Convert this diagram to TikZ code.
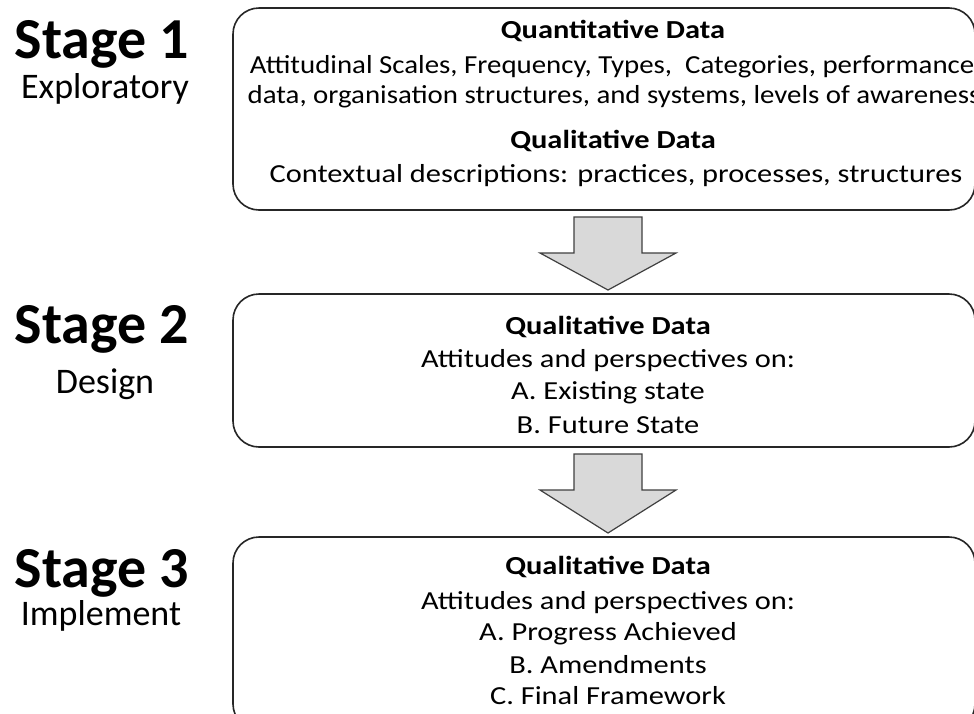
\documentclass[tikz,border=0pt]{standalone}
\usepackage{fontspec}
\setmainfont{Carlito}
\newfontfamily\widefont{Carlito}[FakeStretch=1.17]
\newfontfamily\halfwidefont{Carlito}[FakeStretch=1.11]
\usetikzlibrary{calc}

\tikzset{
  stagebox/.style={draw=black!85, line width=1.6pt, rounded corners=26pt},
  stagename/.style={font=\fontsize{58}{60}\selectfont\bfseries},
  stagesub/.style={font=\fontsize{36}{40}\selectfont},
  boxhead/.style={font=\widefont\fontsize{26}{30}\selectfont\bfseries},
  boxtext/.style={font=\widefont\fontsize{26}{30}\selectfont},
  longtext/.style={font=\halfwidefont\fontsize{26}{30}\selectfont},
  blockarrow/.style={draw=black!75, line width=1.2pt, fill=black!15, line join=miter}
}

\begin{document}
\begin{tikzpicture}[x=1pt, y=-1pt]
    \clip (0,0) rectangle (974,713);
    \fill[white] (0,0) rectangle (974,713);

    % stage labels
    \node[stagename] (st1) at (102,44) {Stage 1};
    \node[stagesub] (sub1) at (105,89) {Exploratory};
    \node[stagename] (st2) at (102,329) {Stage 2};
    \node[stagesub] (sub2) at (105,384) {Design};
    \node[stagename] (st3) at (102,573) {Stage 3};
    \node[stagesub] (sub3) at (101,616) {Implement};

    % boxes
    \draw[stagebox] (233,8) rectangle (975,210);
    \coordinate (b1) at (608,210);
    \draw[stagebox] (233,294) rectangle (975,447);
    \coordinate (b2top) at (608,294);
    \coordinate (b2) at (608,447);
    \draw[stagebox] (233,537) rectangle (975,730);
    \coordinate (b3top) at (608,537);

    % box 1
    \node[boxhead] (quant) at (613,31) {Quantitative Data};
    \node[longtext] (l1) at (612,67) {Attitudinal Scales, Frequency, Types,\ \ Categories, performance};
    \node[longtext] (l2) at (614,97) {data, organisation structures, and systems, levels of awareness};
    \node[boxhead] (qual1) at (613,141) {Qualitative Data};
    \node[boxtext] (l3) at (616,176) {Contextual descriptions: practices, processes, structures};

    % box 2
    \node[boxhead] (qual2) at (608,327) {Qualitative Data};
    \node[boxtext] (m1) at (608,361) {Attitudes and perspectives on:};
    \node[boxtext] (m2) at (608,393) {A. Existing state};
    \node[boxtext] (m3) at (608,425) {B. Future State};

    % box 3
    \node[boxhead] (qual3) at (608,567) {Qualitative Data};
    \node[boxtext] (n1) at (608,603) {Attitudes and perspectives on:};
    \node[boxtext] (n2) at (608,634) {A. Progress Achieved};
    \node[boxtext] (n3) at (608,665) {B. Amendments};
    \node[boxtext] (n4) at (608,696) {C. Final Framework};

    % arrows
    \foreach \a/\b in {b1/b2top, b2/b3top}
      \draw[blockarrow] ($(\a)+(-34,7)$) -- ++(68,0) -- ++(0,36) -- ++(34,0)
        -- ($(\b)+(0,-4)$) -- ($(\a)+(-68,43)$) -- ++(34,0) -- cycle;
\end{tikzpicture}
\end{document}
